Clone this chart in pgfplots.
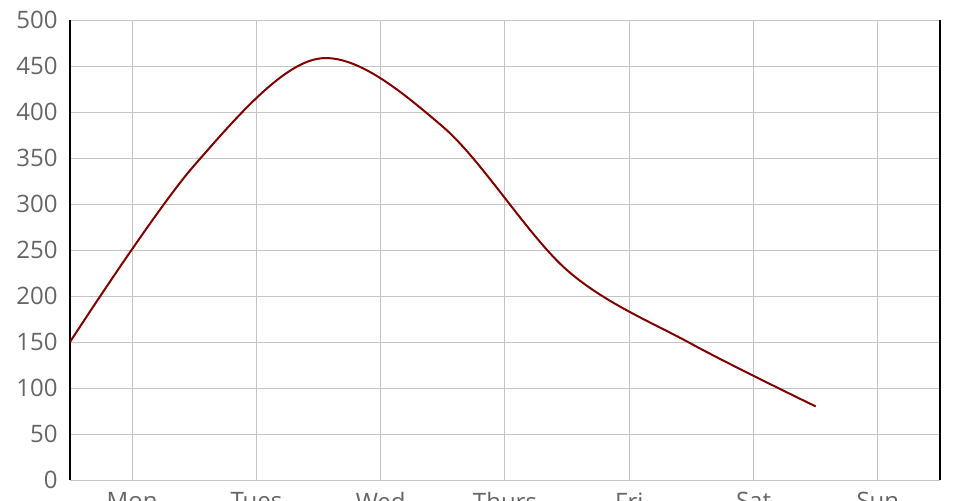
\documentclass[border=0pt]{standalone}
\usepackage{pgfplots}
\pgfplotsset{compat=1.18}
\usepackage{fontspec}
\setmainfont{Open Sans}
\definecolor{lbl}{HTML}{666666}
\definecolor{grd}{HTML}{C4C4C4}
\definecolor{ln}{HTML}{800000}
\begin{document}
\begin{tikzpicture}
\begin{axis}[
  at={(0,0)}, anchor=south west,
  scale only axis, width=435pt, height=230pt,
  xmin=0, xmax=7, ymin=0, ymax=500,
  xtick={0.5,1.5,2.5,3.5,4.5,5.5,6.5},
  xticklabels={Mon,Tues,Wed,Thurs,Fri,Sat,Sun},
  ytick={0,50,...,500},
  /pgf/number format/assume math mode=true,
  grid=major, major grid style={grd, line width=0.5pt},
  tick style={draw=none},
  separate axis lines,
  x axis line style={grd, line width=0.5pt},
  y axis line style={black, line width=0.8pt},
  ticklabel style={font=\fontsize{12pt}{14pt}\selectfont, text=lbl},
  xticklabel style={inner sep=0pt, anchor=north, yshift=-6pt},
  yticklabel style={inner sep=0pt, anchor=east, xshift=-6pt},
]
\addplot[ln, line width=1pt, smooth, tension=0.55, no markers] coordinates {
  (0,150) (1,342) (2,458) (3,384) (4,228) (5,148) (6,80)
};
\end{axis}
\pgfresetboundingbox
\path[use as bounding box] (-35pt,-10pt) rectangle (445pt,240pt);
\end{tikzpicture}
\end{document}
